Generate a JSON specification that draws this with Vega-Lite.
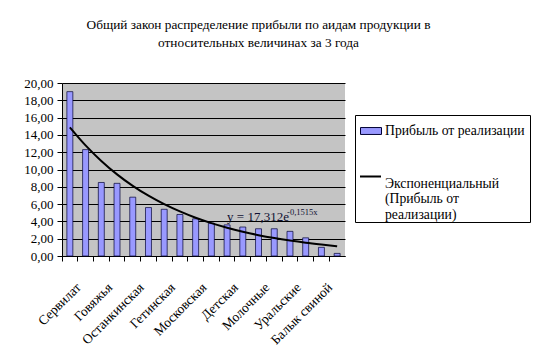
{
  "$schema": "https://vega.github.io/schema/vega-lite/v6.json",
  "width": 283,
  "height": 173,
  "autosize": "none",
  "padding": {"left": 62, "top": 83, "right": 194, "bottom": 102},
  "background": "white",
  "title": {
    "text": ["Общий закон распределение прибыли по аидам продукции в", "относительных величинах за 3 года"],
    "font": "Liberation Serif",
    "fontSize": 13.3,
    "fontWeight": "normal",
    "color": "black",
    "anchor": "middle",
    "dx": 55,
    "offset": 28,
    "lineHeight": 18
  },
  "config": {
    "font": "Liberation Serif",
    "locale": {"number": {"decimal": ",", "thousands": " ", "grouping": [3], "currency": ["", ""]}},
    "view": {"fill": "#c4c4c4", "stroke": null},
    "axis": {
      "labelFont": "Liberation Serif",
      "labelFontSize": 13,
      "labelColor": "black",
      "domainColor": "black",
      "tickColor": "black",
      "tickSize": 5,
      "labelPadding": 4,
      "title": null
    },
    "legend": {
      "labelFont": "Liberation Serif",
      "labelFontSize": 13.7,
      "labelColor": "black",
      "labelLimit": 250
    }
  },
  "resolve": {"scale": {"color": "independent"}},
  "data": {
    "values": [
      {"product": "Сервилат", "profit": 19.0, "trend": 14.88},
      {"product": "Салями", "profit": 12.3, "trend": 12.79},
      {"product": "Говяжья", "profit": 8.5, "trend": 10.99},
      {"product": "Докторская", "profit": 8.4, "trend": 9.44},
      {"product": "Останкинская", "profit": 6.8, "trend": 8.11},
      {"product": "Любительская", "profit": 5.6, "trend": 6.97},
      {"product": "Гетинская", "profit": 5.4, "trend": 5.99},
      {"product": "Краковская", "profit": 4.8, "trend": 5.15},
      {"product": "Московская", "profit": 4.3, "trend": 4.42},
      {"product": "Сосиски", "profit": 3.8, "trend": 3.80},
      {"product": "Детская", "profit": 3.6, "trend": 3.27},
      {"product": "Сардельки", "profit": 3.35, "trend": 2.81},
      {"product": "Молочные", "profit": 3.15, "trend": 2.41},
      {"product": "Ветчина", "profit": 3.15, "trend": 2.07},
      {"product": "Уральские", "profit": 2.85, "trend": 1.78},
      {"product": "Чайная", "profit": 2.1, "trend": 1.53},
      {"product": "Балык свиной", "profit": 1.0, "trend": 1.32},
      {"product": "Корейка", "profit": 0.3, "trend": 1.13}
    ]
  },
  "transform": [{"fold": ["profit", "trend"], "as": ["series", "amount"]}],
  "encoding": {
    "x": {
      "field": "product", "type": "nominal", "sort": null,
      "scale": {"paddingInner": 0, "paddingOuter": 0},
      "axis": {
        "labelAngle": -45,
        "bandPosition": 0,
        "labelOffset": 4,
        "labelPadding": 19,
        "labelFontSize": 13.5,
        "grid": false,
        "labelExpr": "round(datum.index * 17) % 2 == 0 ? datum.label : ''"
      }
    },
    "y": {
      "field": "amount", "type": "quantitative",
      "scale": {"domain": [0, 20]},
      "axis": {
        "values": [0, 2, 4, 6, 8, 10, 12, 14, 16, 18, 20],
        "format": ".2f",
        "labelOverlap": false,
        "grid": true,
        "gridColor": "black",
        "gridWidth": 1,
        "gridOpacity": 1
      }
    }
  },
  "layer": [
    {
      "transform": [{"filter": "datum.series == 'profit'"}],
      "mark": {"type": "bar", "stroke": "#000033", "strokeWidth": 0.7, "width": {"band": 0.38}},
      "encoding": {
        "color": {
          "datum": "Прибыль от реализации",
          "type": "nominal",
          "scale": {"range": ["#9999ff"]},
          "legend": {
            "title": " ",
            "titleOrient": "bottom",
            "titleFontSize": 13,
            "titlePadding": 66,
            "orient": "none",
            "legendX": 293,
            "legendY": 32,
            "direction": "vertical",
            "strokeColor": "black",
            "fillColor": "white",
            "padding": 5,
            "labelOffset": 3,
            "labelBaseline": "middle",
            "symbolType": "M-1,-0.33H1V0.33H-1Z",
            "symbolSize": 441,
            "symbolStrokeColor": "#000033",
            "symbolStrokeWidth": 1,
            "zindex": 0
          }
        }
      }
    },
    {
      "transform": [{"filter": "datum.series == 'trend'"}],
      "mark": {"type": "line", "strokeWidth": 2, "interpolate": "monotone"},
      "encoding": {
        "color": {
          "datum": "Экспоненциальный\n(Прибыль от\nреализации)",
          "type": "nominal",
          "scale": {"range": ["black"]},
          "legend": {
            "title": null,
            "orient": "none",
            "legendX": 297,
            "legendY": 82,
            "direction": "vertical",
            "padding": 0,
            "labelOffset": 3,
            "labelBaseline": "top",
            "labelExpr": "split(datum.label, '\\n')",
            "symbolType": "stroke",
            "symbolSize": 441,
            "symbolStrokeWidth": 2,
            "zindex": 1
          }
        }
      }
    },
    {
      "transform": [{"filter": "datum.series == 'trend' && datum.product == 'Детская'"}],
      "mark": {"type": "text", "align": "left", "baseline": "middle", "fontSize": 13, "dy": -11, "color": "#111133"},
      "encoding": {
        "text": {"value": "y = 17,312e"}
      }
    },
    {
      "transform": [{"filter": "datum.series == 'trend' && datum.product == 'Детская'"}],
      "mark": {"type": "text", "align": "left", "baseline": "middle", "fontSize": 8.5, "dx": 60, "dy": -16, "color": "#111133"},
      "encoding": {
        "text": {"value": "-0,1515x"}
      }
    }
  ]
}
